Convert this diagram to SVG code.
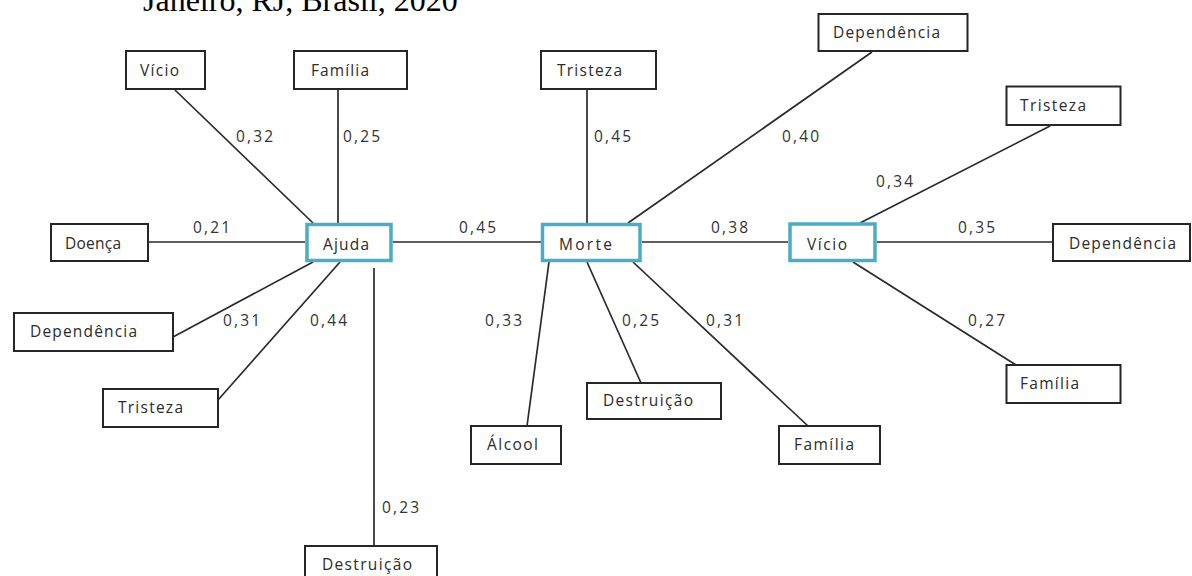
<svg xmlns="http://www.w3.org/2000/svg" width="1192" height="576" viewBox="0 0 1192 576">
  <style>
    .box { fill: #ffffff; stroke: #262626; stroke-width: 2; }
    .hub { fill: #ffffff; stroke: #4bacc6; stroke-width: 3.5; }
    .lbl { font-family: "Open Sans", "DejaVu Sans", sans-serif; font-size: 15.5px; fill: #2b2b2b; }
    .num { font-family: "Open Sans", "DejaVu Sans", sans-serif; font-size: 15.5px; fill: #333333; }
    .edge { stroke: #2a2a2a; stroke-width: 1.7; fill: none; }
    .title { font-family: "Liberation Serif", "Times New Roman", serif; font-size: 32px; fill: #000000; }
  </style>

  <rect width="1192" height="576" fill="#ffffff"/>

  <!-- caption line, cut at the top edge -->
  <text class="title" x="143" y="11">Janeiro, RJ, Brasil, 2020</text>

  <!-- connectors -->
  <g id="connectors">
    <line class="edge" x1="175" y1="90" x2="313" y2="223"/>
    <line class="edge" x1="338" y1="90" x2="338" y2="223"/>
    <line class="edge" x1="148" y1="242" x2="305" y2="242"/>
    <line class="edge" x1="173" y1="337" x2="313" y2="262"/>
    <line class="edge" x1="218" y1="400" x2="340" y2="262"/>
    <line class="edge" x1="374" y1="268" x2="374" y2="546"/>
    <line class="edge" x1="393" y1="242" x2="541" y2="242"/>
    <line class="edge" x1="587" y1="90" x2="587" y2="223"/>
    <line class="edge" x1="872" y1="52" x2="628" y2="223"/>
    <line class="edge" x1="642" y1="242" x2="788" y2="242"/>
    <line class="edge" x1="527" y1="426" x2="549" y2="262"/>
    <line class="edge" x1="641" y1="383" x2="587" y2="262"/>
    <line class="edge" x1="808" y1="426" x2="633" y2="262"/>
    <line class="edge" x1="1050" y1="126" x2="860" y2="223"/>
    <line class="edge" x1="877" y1="242" x2="1053" y2="242"/>
    <line class="edge" x1="1016" y1="365" x2="853" y2="262"/>
  </g>

  <!-- edge weights -->
  <g id="weights">
    <text class="num" x="236" y="142" textLength="37">0,32</text>
    <text class="num" x="343" y="142" textLength="37">0,25</text>
    <text class="num" x="193" y="233" textLength="37">0,21</text>
    <text class="num" x="459" y="233" textLength="37">0,45</text>
    <text class="num" x="223" y="326" textLength="37">0,31</text>
    <text class="num" x="310" y="326" textLength="37">0,44</text>
    <text class="num" x="382" y="513" textLength="37">0,23</text>
    <text class="num" x="485" y="326" textLength="37">0,33</text>
    <text class="num" x="622" y="326" textLength="37">0,25</text>
    <text class="num" x="706" y="326" textLength="37">0,31</text>
    <text class="num" x="594" y="142" textLength="37">0,45</text>
    <text class="num" x="782" y="142" textLength="37">0,40</text>
    <text class="num" x="876" y="187" textLength="37">0,34</text>
    <text class="num" x="711" y="233" textLength="37">0,38</text>
    <text class="num" x="958" y="233" textLength="37">0,35</text>
    <text class="num" x="968" y="326" textLength="37">0,27</text>
  </g>

  <!-- hub nodes -->
  <g id="n-ajuda">
    <rect class="hub" x="307" y="224.5" width="84" height="36"/>
    <text class="lbl" x="323" y="250" textLength="46">Ajuda</text>
  </g>
  <g id="n-morte">
    <rect class="hub" x="542.5" y="224.5" width="97.5" height="36"/>
    <text class="lbl" x="559" y="250" textLength="53">Morte</text>
  </g>
  <g id="n-vicio">
    <rect class="hub" x="790" y="224" width="85" height="36.5"/>
    <text class="lbl" x="807" y="250" textLength="40">Vício</text>
  </g>

  <!-- Ajuda neighbours -->
  <g id="n-ajuda-vicio">
    <rect class="box" x="126" y="51" width="79" height="38"/>
    <text class="lbl" x="140" y="76" textLength="39">Vício</text>
  </g>
  <g id="n-ajuda-familia">
    <rect class="box" x="294" y="51" width="113" height="38"/>
    <text class="lbl" x="311" y="76" textLength="58">Família</text>
  </g>
  <g id="n-ajuda-doenca">
    <rect class="box" x="51" y="224" width="97" height="37"/>
    <text class="lbl" x="65" y="249" textLength="56">Doença</text>
  </g>
  <g id="n-ajuda-dependencia">
    <rect class="box" x="14" y="313" width="159" height="38"/>
    <text class="lbl" x="30" y="337" textLength="107">Dependência</text>
  </g>
  <g id="n-ajuda-tristeza">
    <rect class="box" x="103" y="389" width="115" height="38"/>
    <text class="lbl" x="118" y="413" textLength="65">Tristeza</text>
  </g>
  <g id="n-ajuda-destruicao">
    <rect class="box" x="305" y="546" width="132" height="38"/>
    <text class="lbl" x="322" y="570" textLength="90">Destruição</text>
  </g>

  <!-- Morte neighbours -->
  <g id="n-morte-tristeza">
    <rect class="box" x="541" y="51" width="115" height="38"/>
    <text class="lbl" x="557" y="76" textLength="65">Tristeza</text>
  </g>
  <g id="n-morte-dependencia">
    <rect class="box" x="818.5" y="14" width="149" height="37"/>
    <text class="lbl" x="833" y="38" textLength="107">Dependência</text>
  </g>
  <g id="n-morte-alcool">
    <rect class="box" x="471" y="426" width="90" height="38"/>
    <text class="lbl" x="487" y="450" textLength="51">Álcool</text>
  </g>
  <g id="n-morte-destruicao">
    <rect class="box" x="587" y="383" width="134" height="36"/>
    <text class="lbl" x="603" y="406" textLength="90">Destruição</text>
  </g>
  <g id="n-morte-familia">
    <rect class="box" x="779" y="426" width="101" height="38"/>
    <text class="lbl" x="794" y="450" textLength="60">Família</text>
  </g>

  <!-- Vício neighbours -->
  <g id="n-vicio-tristeza">
    <rect class="box" x="1006.5" y="86.5" width="114" height="38.5"/>
    <text class="lbl" x="1020" y="111" textLength="66">Tristeza</text>
  </g>
  <g id="n-vicio-dependencia">
    <rect class="box" x="1053" y="224" width="137" height="37"/>
    <text class="lbl" x="1069" y="249" textLength="107">Dependência</text>
  </g>
  <g id="n-vicio-familia">
    <rect class="box" x="1006.5" y="365" width="114" height="38"/>
    <text class="lbl" x="1020" y="389" textLength="59">Família</text>
  </g>
</svg>
